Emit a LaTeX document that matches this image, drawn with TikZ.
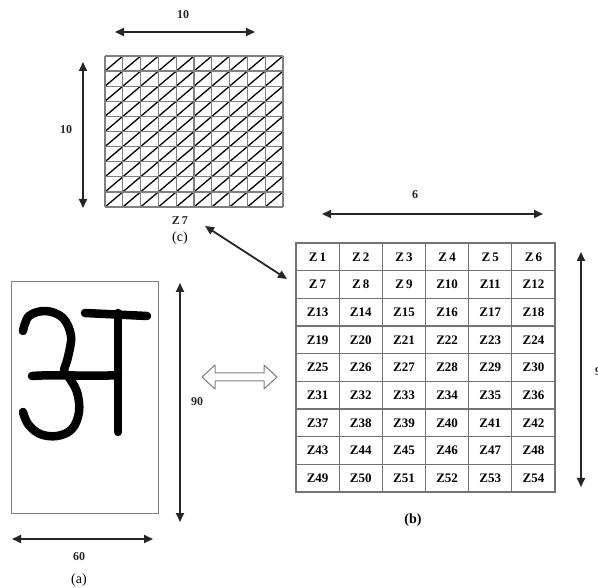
\documentclass[tikz,border=0pt]{standalone}
\usepackage{fontspec}
\setmainfont{Liberation Serif}
\usetikzlibrary{arrows.meta}
\begin{document}
\begin{tikzpicture}[x=1pt,y=-1pt,
 dimarrow/.style={line width=1.8pt, draw=black!85, {Triangle[length=9pt,width=8pt]}-{Triangle[length=9pt,width=8pt]}},
 dimlabel/.style={font=\bfseries\fontsize{12}{12}\selectfont, inner sep=0pt, text=black!85},
 caption/.style={font=\fontsize{14}{14}\selectfont, inner sep=0pt},
 gridline/.style={draw=black!50, line width=1.3pt},
 diagline/.style={draw=black, line width=1.3pt},
 zcell/.style={draw=black!55, line width=1.1pt, minimum width=43.17pt, minimum height=27.67pt, inner sep=0pt, font=\bfseries\fontsize{13}{13}\selectfont},
 penstroke/.style={line width=8.5pt, line cap=round, line join=round, draw=black}
]
\useasboundingbox (0,0) rectangle (598,588);
\fill[white] (0,0) rectangle (598,588);

% ---------- (c) hatched 10x10 grid ----------
\node[inner sep=0pt, minimum width=178pt, minimum height=151pt] (gridc) at (194,131.5) {};
\foreach \i in {0,...,9}{
  \foreach \j in {0,...,9}{
    \draw[diagline] ({105+17.8*\i},{56+15.1*(\j+1)}) -- ({105+17.8*(\i+1)},{56+15.1*\j});
  }
}
\foreach \i in {0,...,10}{
  \draw[gridline] ({105+17.8*\i},56) -- ({105+17.8*\i},207);
  \draw[gridline] (105,{56+15.1*\i}) -- (283,{56+15.1*\i});
}
\coordinate (ct1) at (115,32); \coordinate (ct2) at (255,32);
\coordinate (cl1) at (83,62);  \coordinate (cl2) at (83,208);
\draw[dimarrow] (ct1) -- (ct2);
\draw[dimarrow] (cl1) -- (cl2);
\node[dimlabel] (ctop) at (183,15) {10};
\node[dimlabel] (cleft) at (66,130) {10};
\node[dimlabel] (z7c) at (180,221) {Z\,7};
\node[caption] (capc) at (180,238) {(c)};

% ---------- (b) 6x9 zone grid ----------
\foreach \r in {0,...,8}{
  \foreach \c in {0,...,5}{
    \pgfmathtruncatemacro{\n}{6*\r+\c+1}
    \node[zcell] (b\n) at ({296+43.17*(\c+0.5)},{243+27.67*(\r+0.5)})
      {\ifnum\n<10 Z\,\n\else Z\n\fi};
  }
}
\coordinate (bt1) at (322,214); \coordinate (bt2) at (543,214);
\coordinate (br1) at (581,252); \coordinate (br2) at (581,487);
\draw[dimarrow] (bt1) -- (bt2);
\draw[dimarrow] (br1) -- (br2);
\node[dimlabel] (btop) at (415,195) {6};
\node[dimlabel, anchor=west] (bright) at (595,372) {9};
\node[caption, font=\bfseries\fontsize{14}{14}\selectfont] (capb) at (413,520) {(b)};

% connector between (c) and (b)
\coordinate (cz) at (205,226);
\coordinate (bz) at (287,279);
\draw[dimarrow] (cz) -- (bz);

% ---------- (a) character image ----------
\node[draw=black!50, line width=1pt, inner sep=0pt, minimum width=147pt, minimum height=231pt] (boxa) at (84.5,397.5) {};
% handwritten अ
\draw[penstroke] plot[smooth, tension=0.6] coordinates {(23,331) (29,316) (46,311) (63,318) (71,336) (68,357) (64,371) (68,376) (77,392) (79,412) (72,429) (57,436) (40,434) (28,424) (23,412)};
\draw[penstroke] (32,376) .. controls (60,374) and (90,377) .. (118,375);
\draw[penstroke] (118,313) -- (118,432);
\draw[penstroke] (85,313) -- (147,316);

\coordinate (av1) at (180,283); \coordinate (av2) at (180,522);
\coordinate (ah1) at (12,539);  \coordinate (ah2) at (153,539);
\draw[dimarrow] (av1) -- (av2);
\draw[dimarrow] (ah1) -- (ah2);
\node[dimlabel] (aright) at (197,402) {90};
\node[dimlabel] (abottom) at (79,557) {60};
\node[caption] (capa) at (79,580) {(a)};

% hollow double arrow between (a) and (b)
\draw[draw=black!50, line width=1pt, line join=round, fill=white]
  (202,377) -- (215,365) -- (215,373) -- (264,373) -- (264,365) -- (277,377)
  -- (264,389) -- (264,381) -- (215,381) -- (215,389) -- cycle;
\end{tikzpicture}
\end{document}
